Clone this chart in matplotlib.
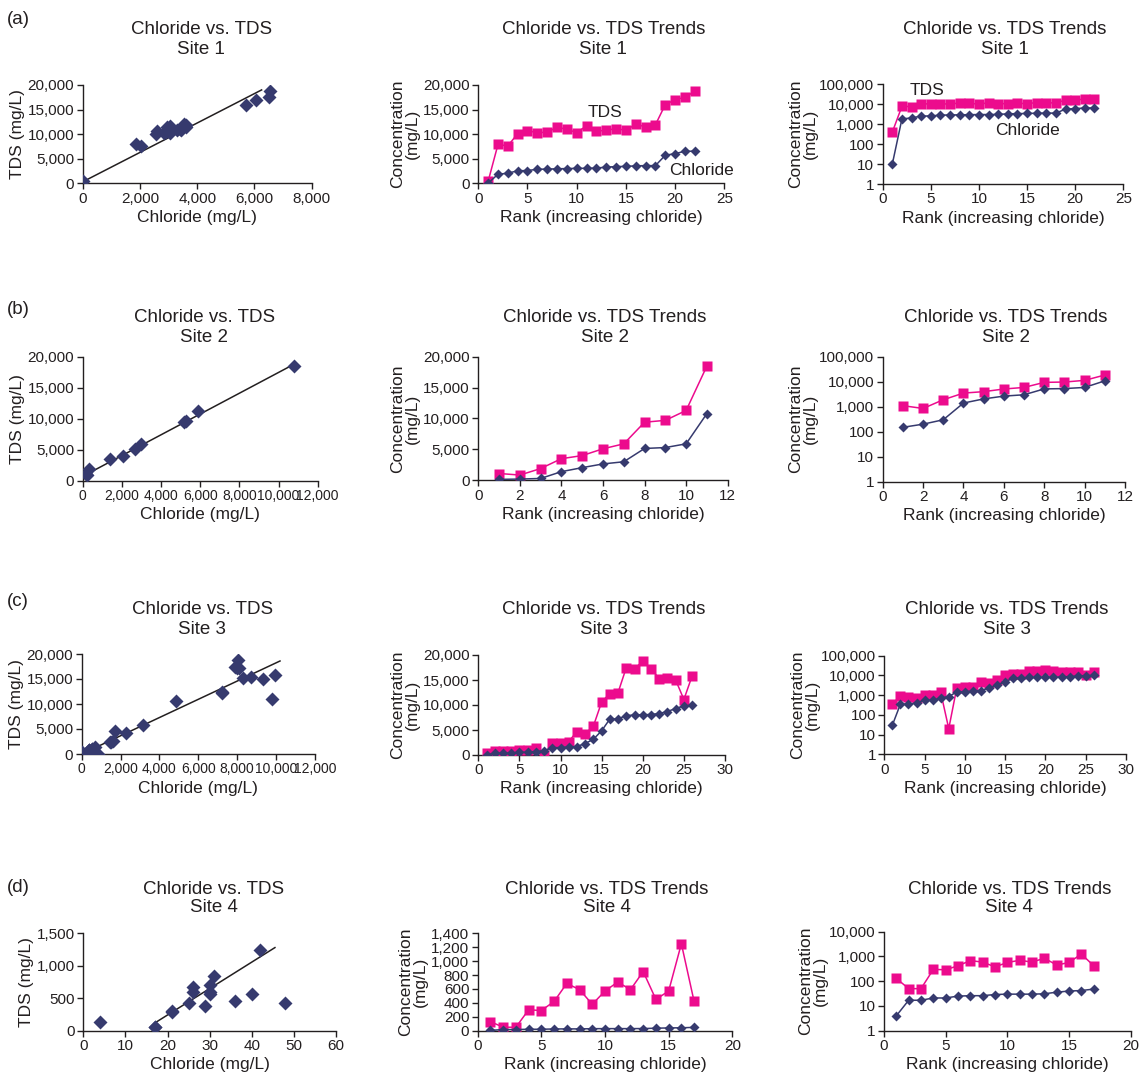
import numpy as np
import matplotlib
matplotlib.use("Agg")
import matplotlib.pyplot as plt
from matplotlib.ticker import FuncFormatter, FixedLocator, NullLocator

plt.rcParams['font.family'] = ['Liberation Sans', 'DejaVu Sans']

# ---------------- data (sorted by increasing chloride) ----------------
site1_cl = [10, 1850, 2050, 2550, 2600, 2850, 2900, 2950, 3000, 3050, 3050,
            3100, 3300, 3400, 3450, 3550, 3600, 3600, 5700, 6050, 6500, 6550]
site1_tds = [400, 7900, 7600, 10100, 10700, 10300, 10400, 11400, 11000, 10300, 11700,
             10600, 10800, 11100, 10800, 12000, 11500, 11900, 16000, 17000, 17500, 18700]
site1_fit_x = [0, 6250]
site1_fit_y = [300, 19000]

site2_cl = [150, 200, 300, 1400, 2050, 2650, 3000, 5150, 5300, 5900, 10800]
site2_tds = [1100, 850, 1900, 3500, 4000, 5100, 5900, 9400, 9700, 11300, 18500]
site2_fit_x = [0, 10800]
site2_fit_y = [700, 18800]

site3_cl = [30, 350, 350, 400, 550, 550, 700, 850, 1450, 1500, 1600, 1700, 2300,
            3150, 4850, 7200, 7200, 7900, 8000, 8050, 8100, 8300, 8700, 9300, 9800, 9950]
site3_tds = [350, 900, 800, 750, 1000, 1000, 1400, 20, 2400, 2500, 2700, 4700, 4200,
             5800, 10600, 12300, 12500, 17500, 17200, 18800, 17200, 15300, 15500, 15000,
             11100, 15800]
site3_fit_x = [0, 10200]
site3_fit_y = [0, 18600]

site4_cl = [4, 17, 17, 21, 21, 25, 26, 26, 29, 30, 30, 30, 31, 36, 40, 42, 48]
site4_tds = [130, 50, 50, 300, 290, 420, 680, 590, 380, 570, 700, 590, 850, 450,
             570, 1250, 420]
site4_fit_x = [17, 45.5]
site4_fit_y = [120, 1280]

site_names = ["Site 1", "Site 2", "Site 3", "Site 4"]
panel_labels = ["(a)", "(b)", "(c)", "(d)"]

sites = [
    (site1_cl, site1_tds, site1_fit_x, site1_fit_y),
    (site2_cl, site2_tds, site2_fit_x, site2_fit_y),
    (site3_cl, site3_tds, site3_fit_x, site3_fit_y),
    (site4_cl, site4_tds, site4_fit_x, site4_fit_y),
]

scatter_xticks = [[0, 2000, 4000, 6000, 8000], list(range(0, 12001, 2000)),
                  list(range(0, 12001, 2000)), list(range(0, 61, 10))]
scatter_yticks = [list(range(0, 20001, 5000))] * 3 + [[0, 500, 1000, 1500]]
trend_xticks = [list(range(0, 26, 5)), list(range(0, 13, 2)),
                list(range(0, 31, 5)), list(range(0, 21, 5))]
trend_yticks = [list(range(0, 20001, 5000))] * 3 + [list(range(0, 1401, 200))]
log_top = [100000, 100000, 100000, 10000]

NAVY = '#363a6e'
PINK = '#ec0b8d'
TXT = '#231f20'

W, H = 1140, 1081
fig = plt.figure(figsize=(W / 100, H / 100), dpi=100)

boxes = [
    [(82.7, 85, 311.7, 183.3), (478.3, 85, 724.3, 183.3), (882.7, 84.3, 1123.3, 184)],
    [(82.7, 356.7, 317.7, 480.7), (478.3, 356.7, 727.7, 480.3), (882.7, 356.7, 1125, 481.7)],
    [(81.7, 654, 315, 754), (478.3, 655, 725, 755), (884.3, 655.7, 1126, 754.3)],
    [(83.3, 933.3, 336, 1030.7), (477.7, 933.3, 732.3, 1030.7), (884, 931.7, 1130.7, 1030.7)],
]
title_y = [(30, 49), (318, 337), (610, 629), (889, 908)]
panel_y = [19, 309, 601, 887]

fmt = FuncFormatter(lambda v, p: f"{v:,.0f}")


def make_ax(box):
    l, t, r, b = box
    ax = fig.add_axes([l / W, 1 - b / H, (r - l) / W, (b - t) / H])
    for s in ['top', 'right']:
        ax.spines[s].set_visible(False)
    for s in ['left', 'bottom']:
        ax.spines[s].set_color(TXT)
        ax.spines[s].set_linewidth(1.0)
    ax.tick_params(direction='out', length=4, width=1.0, colors=TXT,
                   labelsize=11, pad=2)
    ax.set_facecolor('none')
    return ax


TFS = 13.5
LFS = 12.5

for i, (cl, tds, fx, fy) in enumerate(sites):
    ranks = np.arange(1, len(cl) + 1)
    # ---- scatter ----
    ax = make_ax(boxes[i][0])
    ax.plot(fx, fy, color=TXT, lw=1.1, zorder=2)
    ax.plot(cl, tds, 'D', color=NAVY, ms=7, mec='none', zorder=3)
    ax.set_xlim(0, scatter_xticks[i][-1])
    ax.set_ylim(0, scatter_yticks[i][-1])
    ax.xaxis.set_major_locator(FixedLocator(scatter_xticks[i]))
    ax.yaxis.set_major_locator(FixedLocator(scatter_yticks[i]))
    ax.xaxis.set_major_formatter(fmt)
    ax.yaxis.set_major_formatter(fmt)
    if i in (1, 2):
        for lab in ax.get_xticklabels():
            lab.set_family(['Liberation Sans Narrow', 'Liberation Sans'])
            lab.set_fontsize(10)
    ax.set_xlabel("Chloride (mg/L)", fontsize=LFS, color=TXT, labelpad=3)
    ax.set_ylabel("TDS (mg/L)", fontsize=LFS, color=TXT, labelpad=2)
    cx = (boxes[i][0][0] + boxes[i][0][2]) / 2 + 4
    fig.text(cx / W, 1 - title_y[i][0] / H, "Chloride vs. TDS", ha='center', va='center',
             fontsize=TFS, color=TXT)
    fig.text(cx / W, 1 - title_y[i][1] / H, site_names[i], ha='center', va='center',
             fontsize=TFS, color=TXT)
    fig.text(18 / W, 1 - panel_y[i] / H, panel_labels[i], ha='center', va='center',
             fontsize=TFS, color=TXT)

    # ---- linear trend ----
    ax2 = make_ax(boxes[i][1])
    ax2.plot(ranks, tds, '-s', color=PINK, ms=7, mec='none', lw=1.1, zorder=3)
    ax2.plot(ranks, cl, '-D', color=NAVY, ms=5.5, mec='none', lw=1.1, zorder=4)
    ax2.set_xlim(0, trend_xticks[i][-1])
    ax2.set_ylim(0, trend_yticks[i][-1])
    ax2.xaxis.set_major_locator(FixedLocator(trend_xticks[i]))
    ax2.yaxis.set_major_locator(FixedLocator(trend_yticks[i]))
    ax2.yaxis.set_major_formatter(fmt)
    ax2.set_xlabel("Rank (increasing chloride)", fontsize=LFS, color=TXT, labelpad=3)
    ax2.set_ylabel("Concentration\n(mg/L)", fontsize=LFS, color=TXT, labelpad=2.5,
                   linespacing=0.95)
    cx = (boxes[i][1][0] + boxes[i][1][2]) / 2 + 2
    fig.text(cx / W, 1 - title_y[i][0] / H, "Chloride vs. TDS Trends", ha='center',
             va='center', fontsize=TFS, color=TXT)
    fig.text(cx / W, 1 - title_y[i][1] / H, site_names[i], ha='center', va='center',
             fontsize=TFS, color=TXT)

    # ---- log trend ----
    ax3 = make_ax(boxes[i][2])
    ax3.set_yscale('log')
    ax3.plot(ranks, tds, '-s', color=PINK, ms=7, mec='none', lw=1.1, zorder=3)
    ax3.plot(ranks, cl, '-D', color=NAVY, ms=5.5, mec='none', lw=1.1, zorder=4)
    ax3.set_xlim(0, trend_xticks[i][-1])
    ax3.set_ylim(1, log_top[i])
    ax3.xaxis.set_major_locator(FixedLocator(trend_xticks[i]))
    ax3.yaxis.set_major_locator(FixedLocator([10 ** k for k in range(0, int(np.log10(log_top[i])) + 1)]))
    ax3.yaxis.set_minor_locator(NullLocator())
    ax3.yaxis.set_major_formatter(fmt)
    ax3.set_xlabel("Rank (increasing chloride)", fontsize=LFS, color=TXT, labelpad=3)
    ax3.set_ylabel("Concentration\n(mg/L)", fontsize=LFS, color=TXT, labelpad=1,
                   linespacing=0.95)
    cx = (boxes[i][2][0] + boxes[i][2][2]) / 2 + 2
    fig.text(cx / W, 1 - title_y[i][0] / H, "Chloride vs. TDS Trends", ha='center',
             va='center', fontsize=TFS, color=TXT)
    fig.text(cx / W, 1 - title_y[i][1] / H, site_names[i], ha='center', va='center',
             fontsize=TFS, color=TXT)

    if i == 0:
        ax2.text(12.9, 14500, "TDS", ha='center', va='center', fontsize=LFS, color=TXT)
        ax2.text(22.7, 2700, "Chloride", ha='center', va='center', fontsize=LFS, color=TXT)
        ax3.text(4.6, 48000, "TDS", ha='center', va='center', fontsize=LFS, color=TXT)
        ax3.text(15.0, 510, "Chloride", ha='center', va='center', fontsize=LFS, color=TXT)

fig.savefig("out.png", dpi=100, facecolor='white')
